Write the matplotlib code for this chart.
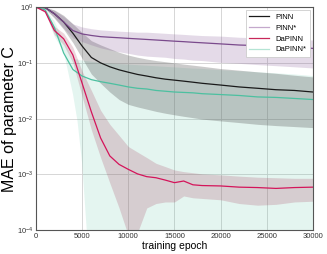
import numpy as np
import matplotlib
matplotlib.use("Agg")
import matplotlib.pyplot as plt
from matplotlib.lines import Line2D

plt.rcParams['font.family'] = ['Liberation Sans', 'DejaVu Sans']

epochs = [0, 1000, 2000, 3000, 4000, 5000, 6000, 7000, 8000, 9000, 10000, 11000, 12000,
          13000, 14000, 15000, 16000, 17000, 18000, 20000, 22000, 24000, 26000, 28000, 30000]

pinn_mean = [1, 0.98, 0.76, 0.54, 0.34, 0.2, 0.125, 0.1, 0.085, 0.075, 0.068, 0.062, 0.058,
             0.054, 0.051, 0.049, 0.047, 0.045, 0.043, 0.040, 0.037, 0.035, 0.033, 0.032, 0.030]
pinn_hi = [1, 1, 0.89, 0.71, 0.5, 0.35, 0.25, 0.21, 0.18, 0.155, 0.138, 0.126, 0.117,
           0.11, 0.105, 0.1, 0.095, 0.091, 0.087, 0.079, 0.074, 0.069, 0.065, 0.06, 0.056]
pinn_lo = [1, 0.93, 0.63, 0.4, 0.23, 0.12, 0.063, 0.043, 0.03, 0.022, 0.018, 0.0162, 0.0148,
           0.0135, 0.0125, 0.0117, 0.011, 0.0104, 0.0098, 0.0091, 0.0085, 0.0079, 0.0075, 0.0072, 0.0069]

pinn_s_mean = [1, 0.98, 0.76, 0.54, 0.38, 0.33, 0.31, 0.295, 0.288, 0.282, 0.275, 0.269, 0.263,
               0.257, 0.251, 0.245, 0.24, 0.234, 0.229, 0.219, 0.209, 0.204, 0.195, 0.19, 0.182]
pinn_s_hi = [1, 1, 0.87, 0.68, 0.5, 0.44, 0.41, 0.39, 0.38, 0.37, 0.363, 0.355, 0.355,
             0.347, 0.339, 0.331, 0.324, 0.316, 0.309, 0.302, 0.288, 0.282, 0.275, 0.263, 0.257]
pinn_s_lo = [1, 0.95, 0.66, 0.42, 0.28, 0.24, 0.21, 0.186, 0.17, 0.158, 0.148, 0.138, 0.132,
             0.129, 0.126, 0.12, 0.117, 0.112, 0.11, 0.102, 0.098, 0.093, 0.089, 0.085, 0.081]

dapinn_mean = [1, 0.83, 0.38, 0.27, 0.138, 0.043, 0.0132, 0.0045, 0.00214, 0.00151, 0.00123, 0.00102, 0.00091,
               0.00087, 0.00079, 0.00071, 0.00076, 0.00065, 0.00063, 0.00062, 0.00059, 0.00058, 0.00056, 0.00058, 0.00059]
dapinn_hi = [1, 0.87, 0.45, 0.34, 0.19, 0.071, 0.032, 0.0141, 0.0079, 0.005, 0.00316, 0.00251, 0.002,
             0.00158, 0.00138, 0.0012, 0.00112, 0.00107, 0.00102, 0.00098, 0.00093, 0.00089, 0.00087, 0.00085, 0.00085]
dapinn_lo = [1, 0.79, 0.32, 0.21, 0.1, 0.025, 0.0063, 0.002, 0.0007, 0.00025, 0.00008, 0.00009, 0.00025,
             0.0003, 0.00032, 0.00032, 0.00041, 0.00038, 0.00037, 0.00035, 0.0003, 0.00028, 0.00029, 0.00032, 0.00033]

dapinn_s_mean = [1, 0.89, 0.43, 0.15, 0.076, 0.058, 0.05, 0.046, 0.043, 0.04, 0.037, 0.035, 0.034,
                 0.032, 0.031, 0.030, 0.0295, 0.029, 0.028, 0.027, 0.026, 0.0245, 0.024, 0.023, 0.022]
dapinn_s_hi = [1, 0.93, 0.56, 0.25, 0.12, 0.11, 0.105, 0.1, 0.098, 0.095, 0.093, 0.091, 0.089,
               0.087, 0.085, 0.083, 0.081, 0.079, 0.078, 0.074, 0.071, 0.068, 0.065, 0.062, 0.058]
# lower edge of DaPINN* band drops below the axis, own epochs
dapinn_s_lo_epochs = [0, 1000, 2000, 3000, 4000, 4500, 5000, 5500, 6000, 30000]
dapinn_s_lo = [1, 0.85, 0.3, 0.16, 0.028, 0.009, 0.0016, 0.0001, 1e-6, 1e-6]

labels = ['PINN', 'PINN*', 'DaPINN', 'DaPINN*']
colors = ['#1a1a1a', '#7a4a8c', '#d4145a', '#4cc0a0']
legend_colors = ['#1a1a1a', '#c4a8cc', '#c8285a', '#b4e4d4']

fig = plt.figure(figsize=(3.27, 2.54), dpi=100)
ax = fig.add_axes([0.110, 0.094, 0.847, 0.878])

# bands
ax.fill(np.r_[epochs, dapinn_s_lo_epochs[::-1]], np.r_[dapinn_s_hi, dapinn_s_lo[::-1]],
        color=colors[3], alpha=0.15, lw=0)
ax.fill_between(epochs, pinn_lo, pinn_hi, color='#555555', alpha=0.3, lw=0)
ax.fill_between(epochs, pinn_s_lo, pinn_s_hi, color=colors[1], alpha=0.2, lw=0)
ax.fill_between(epochs, dapinn_lo, dapinn_hi, color='#a03050', alpha=0.2, lw=0)

ax.plot(epochs, pinn_mean, color=colors[0], lw=0.9)
ax.plot(epochs, pinn_s_mean, color=colors[1], lw=0.9)
ax.plot(epochs, dapinn_s_mean, color=colors[3], lw=0.9)
ax.plot(epochs, dapinn_mean, color=colors[2], lw=0.9)

ax.set_yscale('log')
ax.set_ylim(1e-4, 1)
ax.set_xlim(0, 30000)
ax.set_xticks(range(0, 30001, 5000))
ax.set_yticks([1e-4, 1e-3, 1e-2, 1e-1, 1])
ax.yaxis.set_minor_locator(matplotlib.ticker.NullLocator())
ax.grid(True, color='#d0d0d0', lw=0.6)
ax.set_axisbelow(True)
ax.tick_params(labelsize=5.5, length=0, pad=2, colors='#333333')
for s in ax.spines.values():
    s.set_color('#555555')
    s.set_linewidth(0.8)

ax.set_xlabel('training epoch', fontsize=7.5, labelpad=1)
ax.set_ylabel('MAE of parameter C', fontsize=11.5, labelpad=0)

handles = [Line2D([], [], color=c, lw=0.9) for c in legend_colors]
leg = ax.legend(handles, labels, loc='upper right', fontsize=5.5, frameon=True,
                fancybox=False, edgecolor='#cccccc', framealpha=1, handlelength=2.6,
                borderpad=0.5, labelspacing=0.45, borderaxespad=0.35)
leg.get_frame().set_linewidth(0.6)

fig.savefig('out.png', dpi=100)
